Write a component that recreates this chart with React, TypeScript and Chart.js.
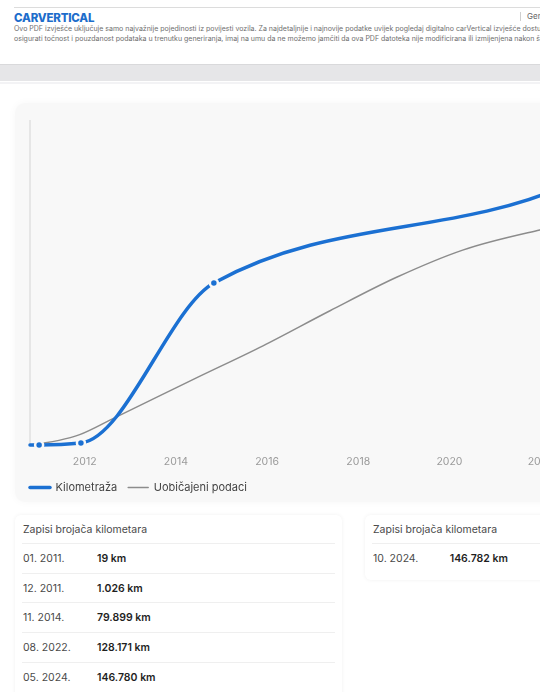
import React, { useEffect, useRef } from 'react';
import { Chart, registerables } from 'chart.js';

Chart.register(...registerables);

// ---------- data ----------
const recordLabels = ['01. 2011.', '12. 2011.', '11. 2014.', '08. 2022.', '05. 2024.', '10. 2024.'];
const recordYears = [2011.0, 2011.917, 2014.833, 2022.583, 2024.333, 2024.75];
const recordKm = [19, 1026, 79899, 128171, 146780, 146782];
const startYear = 2010.8;
const startKm = 0;
const typicalYears = [2010.8, 2011.89, 2012.62, 2014.45, 2015.91, 2017.38, 2018.84, 2020.29, 2021.98, 2022.58, 2024.33, 2024.75];
const typicalKm = [0, 5100, 13000, 33100, 48900, 66200, 82700, 96100, 106000, 109000, 116000, 118000];
const xTickYears = [2012, 2014, 2016, 2018, 2020, 2022, 2024];
const yMaxKm = 160000;
const seriesNames = ['Kilometraža', 'Uobičajeni podaci'];
const leftTableCount = 5;
const tableTitle = 'Zapisi brojača kilometara';
const headerLine1 = 'Ovo PDF izvješće uključuje samo najvažnije pojedinosti iz povijesti vozila. Za najdetaljnije i najnovije podatke uvijek pogledaj digitalno carVertical izvješće dostupno';
const headerLine2 = 'osigurati točnost i pouzdanost podataka u trenutku generiranja, imaj na umu da ne možemo jamčiti da ova PDF datoteka nije modificirana ili izmijenjena nakon što';

const BLUE = '#1b70d2';
const GRAY = '#8c8c8c';
const CARD_BG = '#f8f8f8';
const FONT = 'Inter, "Noto Sans", sans-serif';

const fmtKm = (n: number) => String(n).replace(/\B(?=(\d{3})+(?!\d))/g, '.') + ' km';

// d3-style monotoneX control points (computed from the scale pixels)
const monotoneXPlugin = {
  id: 'monotoneX',
  beforeDatasetDraw(chart: any, args: any) {
    const meta = args.meta;
    const line = meta.dataset;
    const pts = meta.data;
    const n = pts.length;
    if (!line || n < 2) return;
    const xs = pts.map((p: any) => p.x);
    const ys = pts.map((p: any) => p.y);
    const m: number[] = new Array(n).fill(0);
    const sign = (v: number) => (v < 0 ? -1 : 1);
    if (n === 2) {
      const s = (ys[1] - ys[0]) / (xs[1] - xs[0]);
      m[0] = s; m[1] = s;
    } else {
      for (let i = 1; i < n - 1; i++) {
        const h0 = xs[i] - xs[i - 1];
        const h1 = xs[i + 1] - xs[i];
        const s0 = (ys[i] - ys[i - 1]) / h0;
        const s1 = (ys[i + 1] - ys[i]) / h1;
        const p = (s0 * h1 + s1 * h0) / (h0 + h1);
        m[i] = (sign(s0) + sign(s1)) * Math.min(Math.abs(s0), Math.abs(s1), 0.5 * Math.abs(p)) || 0;
      }
      const hA = xs[1] - xs[0];
      m[0] = (3 * (ys[1] - ys[0]) / hA - m[1]) / 2;
      const hB = xs[n - 1] - xs[n - 2];
      m[n - 1] = (3 * (ys[n - 1] - ys[n - 2]) / hB - m[n - 2]) / 2;
    }
    for (let i = 0; i < n; i++) {
      const p = pts[i];
      if (i > 0) {
        const dx = (xs[i] - xs[i - 1]) / 3;
        p.cp1x = xs[i] - dx; p.cp1y = ys[i] - dx * m[i];
      } else { p.cp1x = xs[i]; p.cp1y = ys[i]; }
      if (i < n - 1) {
        const dx = (xs[i + 1] - xs[i]) / 3;
        p.cp2x = xs[i] + dx; p.cp2y = ys[i] + dx * m[i];
      } else { p.cp2x = xs[i]; p.cp2y = ys[i]; }
    }
    line._pointsUpdated = true;
  },
};

function MileageChart() {
  const ref = useRef<HTMLCanvasElement | null>(null);
  useEffect(() => {
    if (!ref.current) return;
    const blueData = [{ x: startYear, y: startKm }, ...recordYears.map((x, i) => ({ x, y: recordKm[i] }))];
    const grayData = typicalYears.map((x, i) => ({ x, y: typicalKm[i] }));
    const chart = new Chart(ref.current, {
      type: 'line',
      data: {
        datasets: [
          {
            label: seriesNames[0],
            data: blueData,
            borderColor: BLUE,
            backgroundColor: BLUE,
            borderWidth: 3.5,
            borderCapStyle: 'round',
            cubicInterpolationMode: 'monotone',
            pointRadius: (c: any) => (c.dataIndex === 0 ? 0 : 4),
            pointBackgroundColor: BLUE,
            pointBorderColor: CARD_BG,
            pointBorderWidth: 2.5,
            clip: false,
          } as any,
          {
            label: seriesNames[1],
            data: grayData,
            borderColor: GRAY,
            backgroundColor: GRAY,
            borderWidth: 1.5,
            borderCapStyle: 'round',
            cubicInterpolationMode: 'monotone',
            pointRadius: 0,
            clip: false,
          } as any,
        ],
      },
      options: {
        responsive: false,
        animation: false,
        devicePixelRatio: 1,
        events: [],
        layout: { padding: { left: 15, right: 28, top: 16.5, bottom: 0 } },
        scales: {
          x: {
            type: 'linear',
            min: startYear,
            max: recordYears[recordYears.length - 1],
            afterBuildTicks: (s: any) => { s.ticks = xTickYears.map((v) => ({ value: v })); },
            afterFit: (s: any) => { s.height = 26; },
            ticks: {
              includeBounds: false,
              autoSkip: false,
              maxRotation: 0,
              padding: 10.3,
              color: '#9a9a9a',
              font: { family: FONT, size: 10.5 },
              callback: (v: any) => String(v),
            },
            grid: { display: false, drawTicks: false },
            border: { display: false },
          },
          y: {
            min: 0,
            max: yMaxKm,
            afterFit: (s: any) => { s.width = 11; },
            ticks: { display: false },
            grid: { display: false, drawTicks: false },
            border: { display: true, color: '#e6e6e6', width: 2 },
          },
        },
        plugins: {
          legend: {
            position: 'bottom',
            align: 'start',
            labels: {
              usePointStyle: true,
              pointStyle: 'line',
              pointStyleWidth: 20,
              padding: 11,
              color: '#444',
              font: { family: FONT, size: 11 },
              generateLabels: (c: any) =>
                c.data.datasets.map((ds: any, i: number) => ({
                  text: ds.label,
                  datasetIndex: i,
                  fillStyle: ds.borderColor,
                  strokeStyle: ds.borderColor,
                  lineWidth: ds.borderWidth,
                  lineCap: 'round',
                  pointStyle: 'line',
                  hidden: false,
                  fontColor: '#444',
                })),
            },
          },
          tooltip: { enabled: false },
        },
      } as any,
      plugins: [monotoneXPlugin],
    });
    return () => chart.destroy();
  }, []);
  return (
    <canvas
      ref={ref}
      width={690}
      height={399}
      style={{ position: 'absolute', left: 4, top: 103.5, width: 690, height: 399 }}
    />
  );
}

function RecordCard(props: { left: number; width: number; height: number; rows: number[]; dateW: number }) {
  const { left, width, height, rows, dateW } = props;
  return (
    <div
      style={{
        position: 'absolute',
        left,
        top: 514.5,
        width,
        height,
        background: '#fff',
        borderRadius: 6,
        boxShadow: '0 0 4px rgba(0,0,0,0.06)',
        boxSizing: 'border-box',
      }}
    >
      <div style={{ height: 28.5, lineHeight: '29px', paddingLeft: 8, fontSize: 10.5, color: '#4a4a4a' }}>{tableTitle}</div>
      {rows.map((i) => (
        <div
          key={i}
          style={{
            height: 29.7,
            margin: '0 7px',
            borderTop: '1px solid #efefef',
            boxSizing: 'border-box',
            display: 'flex',
            alignItems: 'center',
            fontSize: 10.5,
          }}
        >
          <span style={{ width: dateW, paddingLeft: 1, color: '#4a4a4a' }}>{recordLabels[i]}</span>
          <span style={{ fontWeight: 600, color: '#1f1f1f' }}>{fmtKm(recordKm[i])}</span>
        </div>
      ))}
    </div>
  );
}

export default function App() {
  const leftRows = recordKm.slice(0, leftTableCount).map((_, i) => i);
  const rightRows = recordKm.slice(leftTableCount).map((_, i) => i + leftTableCount);
  return (
    <div
      style={{
        position: 'fixed',
        left: 0,
        top: 0,
        width: 540,
        height: 692,
        overflow: 'hidden',
        background: '#fff',
        fontFamily: FONT,
      }}
    >
      {/* header */}
      <div style={{ position: 'absolute', left: 14, top: 6.5, width: 560, height: 1, background: '#dcdcdc' }} />
      <div
        style={{
          position: 'absolute',
          left: 14,
          top: 12.5,
          fontSize: 11.5,
          lineHeight: '11.5px',
          fontWeight: 800,
          color: '#1d6dcb',
          letterSpacing: -0.2,
          whiteSpace: 'nowrap',
        }}
      >
        CARVERTICAL
      </div>
      <div style={{ position: 'absolute', left: 520, top: 11.5, width: 1, height: 9, background: '#cfcfcf' }} />
      <div style={{ position: 'absolute', left: 527, top: 11, fontSize: 8, lineHeight: '10px', color: '#666', whiteSpace: 'nowrap' }}>Gen</div>
      <div style={{ position: 'absolute', left: 14, top: 23.5, fontSize: 7, lineHeight: '10.8px', color: '#6e6e6e', whiteSpace: 'nowrap' }}>
        <div>{headerLine1}</div>
        <div>{headerLine2}</div>
      </div>
      {/* grey band */}
      <div style={{ position: 'absolute', left: 0, top: 64, width: 540, height: 17, background: '#e6e6e8', borderTop: '1px solid #d9d9db', boxSizing: 'border-box' }} />
      <div style={{ position: 'absolute', left: 0, top: 82, width: 540, height: 2, background: '#f3f3f5' }} />
      {/* chart card */}
      <div
        style={{
          position: 'absolute',
          left: 15,
          top: 103,
          width: 620,
          height: 399,
          background: CARD_BG,
          borderRadius: 10,
          boxShadow: '0 0 8px rgba(0,0,0,0.035)',
        }}
      />
      <MileageChart />
      {/* tables */}
      <RecordCard left={15} width={327} height={200} rows={leftRows} dateW={74} />
      <RecordCard left={365} width={220} height={65.5} rows={rightRows} dateW={76.7} />
    </div>
  );
}
